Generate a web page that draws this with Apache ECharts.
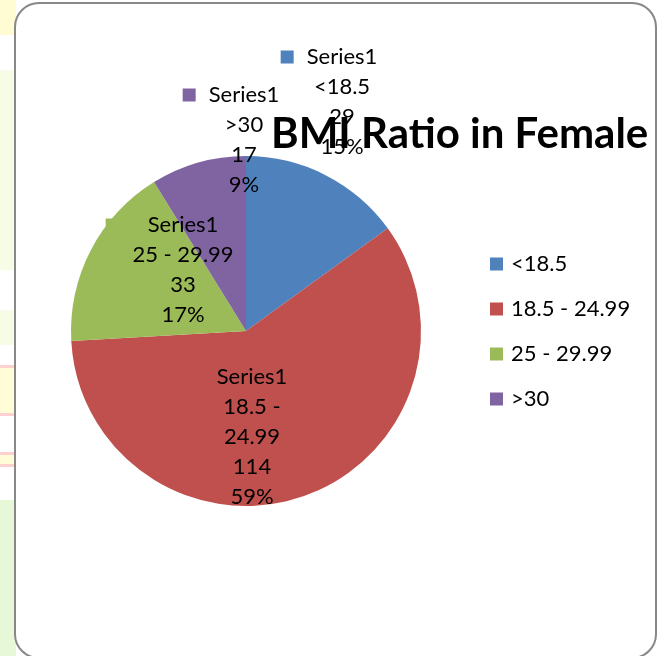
<!DOCTYPE html>
<html><head><meta charset="utf-8">
<script src="https://cdn.jsdelivr.net/npm/echarts@6/dist/echarts.min.js"></script>
<style>html,body{margin:0;padding:0;background:#fff}#c{width:658px;height:656px}</style>
</head><body><div id="c"></div>
<script>
const seriesName = 'Series1';
const categories = ['<18.5', '18.5 - 24.99', '25 - 29.99', '>30'];
const values = [29, 114, 33, 17];
const colors = ['#4F81BD', '#C0504D', '#9BBB59', '#8064A2'];
const titleText = 'BMI Ratio in Female';
// label anchor positions (layout, not data)
const labelPos = [[342, 102], [252, 437], [183, 270], [244, 140]];
const markerGap = [13, 13, 29, 13];
const labelLines = [
  ['<18.5'], ['18.5 -', '24.99'], ['25 - 29.99'], ['>30']
];
const FONT = 'Lato';
const chart = echarts.init(document.getElementById('c'), null, {renderer: 'canvas'});
const rich = {};
colors.forEach((c, i) => {
  rich['m' + i] = {backgroundColor: c, width: 13, height: 13, padding: 0};
  rich['a' + i] = {fontFamily: FONT, fontSize: 22, color: '#000', lineHeight: 30, padding: [0, 0, 0, markerGap[i]]};
  rich['s' + i] = {width: 13 + markerGap[i], height: 13};
});
const option = {
  backgroundColor: '#fff',
  animation: false,
  graphic: [
    {type: 'rect', shape: {x: 0, y: 0, width: 16, height: 35}, style: {fill: '#FFFBD2'}, z: 0},
    {type: 'rect', shape: {x: 0, y: 70, width: 16, height: 200}, style: {fill: '#F6FCE6'}, z: 0},
    {type: 'rect', shape: {x: 0, y: 310, width: 16, height: 35}, style: {fill: '#F6FCE6'}, z: 0},
    {type: 'rect', shape: {x: 0, y: 365, width: 16, height: 3}, style: {fill: '#FFD0D0'}, z: 0},
    {type: 'rect', shape: {x: 0, y: 368, width: 16, height: 45}, style: {fill: '#FFFCD8'}, z: 0},
    {type: 'rect', shape: {x: 0, y: 413, width: 16, height: 3}, style: {fill: '#FFD0D0'}, z: 0},
    {type: 'rect', shape: {x: 0, y: 452, width: 16, height: 3}, style: {fill: '#FFD0D0'}, z: 0},
    {type: 'rect', shape: {x: 0, y: 455, width: 16, height: 9}, style: {fill: '#FFFCD8'}, z: 0},
    {type: 'rect', shape: {x: 0, y: 464, width: 16, height: 3}, style: {fill: '#FFD0D0'}, z: 0},
    {type: 'rect', shape: {x: 0, y: 500, width: 16, height: 156}, style: {fill: '#E6F8D8'}, z: 0},
    {type: 'rect', shape: {x: 15, y: 3, width: 641, height: 655, r: 24},
      style: {fill: '#fff', stroke: '#888', lineWidth: 2}, z: 1}
  ],
  title: {
    text: titleText, left: 271, top: 113, z: 10, padding: 0,
    textStyle: {fontFamily: FONT, fontWeight: 'bold', fontSize: 42, color: '#000'}
  },
  legend: {
    orient: 'vertical', left: 490, top: 253, itemGap: 23, padding: 0,
    itemWidth: 13, itemHeight: 13, icon: 'rect',
    data: categories,
    textStyle: {fontFamily: FONT, fontSize: 22, color: '#000', lineHeight: 22, padding: [0, 0, 0, 3]}
  },
  series: [{
    type: 'pie', name: seriesName, z: 3,
    center: [246, 331], radius: 175, startAngle: 90, clockwise: true,
    percentPrecision: 0,
    data: categories.map((c, i) => ({name: c, value: values[i], itemStyle: {color: colors[i]}})),
    labelLine: {show: false},
    label: {
      show: true, position: 'inside',
      color: '#000', fontFamily: FONT, fontSize: 22, lineHeight: 30, align: 'center',
      formatter: p => {
        const i = p.dataIndex;
        return '{m' + i + '|}{a' + i + '|' + p.seriesName + '}{s' + i + '|}\n' +
          labelLines[i].join('\n') + '\n' + p.value + '\n' + p.percent + '%';
      },
      rich: rich
    },
    labelLayout: p => ({x: labelPos[p.dataIndex][0], y: labelPos[p.dataIndex][1], align: 'center', verticalAlign: 'middle'})
  }]
};
chart.setOption(option);
</script></body></html>
